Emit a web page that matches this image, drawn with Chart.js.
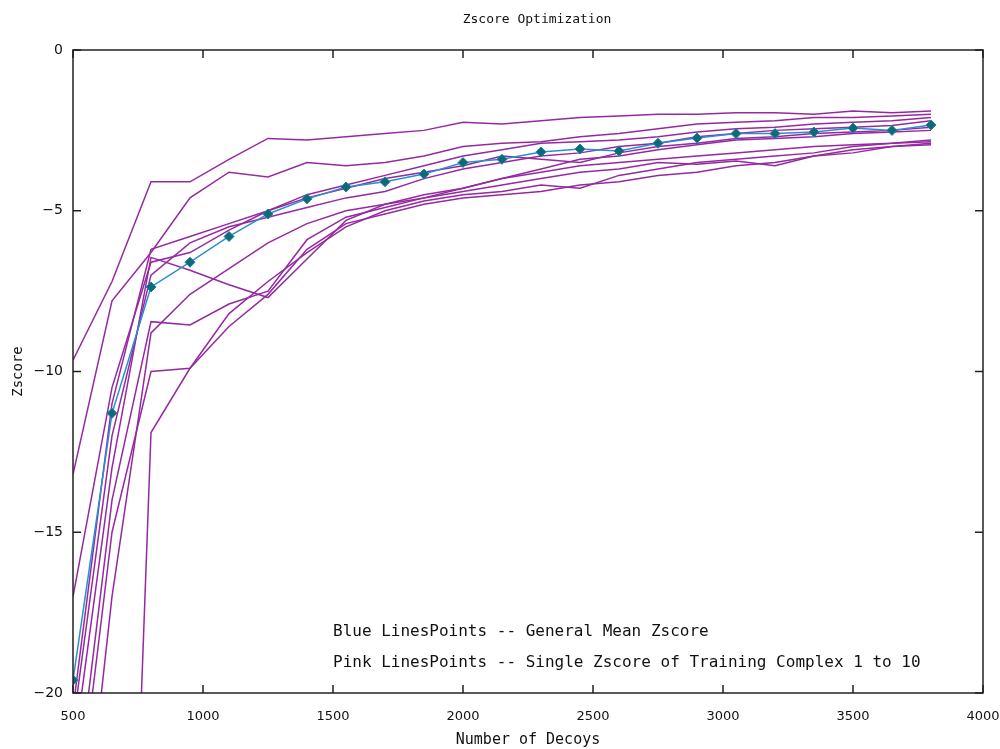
<!DOCTYPE html>
<html>
<head>
<meta charset="utf-8">
<script src="https://cdn.jsdelivr.net/npm/chart.js@4/dist/chart.umd.min.js"></script>
<style>
  html, body { margin: 0; padding: 0; background: #fff; }
  #wrap { width: 1000px; height: 749px; }
</style>
</head>
<body>
<div id="wrap"><canvas id="zChart" width="1000" height="749"></canvas></div>
<script>
  // Number of decoys (x positions of every series)
  const decoys = [500, 650, 800, 950, 1100, 1250, 1400, 1550, 1700, 1850, 2000, 2150,
                  2300, 2450, 2600, 2750, 2900, 3050, 3200, 3350, 3500, 3650, 3800];

  // General mean zscore (blue)
  const meanZ = [-19.6, -11.3, -7.37, -6.6, -5.8, -5.1, -4.63, -4.26, -4.1, -3.86, -3.5, -3.4,
                 -3.17, -3.08, -3.14, -2.9, -2.74, -2.6, -2.6, -2.55, -2.43, -2.5, -2.33];

  // Single zscore of training complexes 1..10 (pink)
  const complex1  = [-9.65, -7.2, -4.1, -4.1, -3.4, -2.75, -2.8, -2.7, -2.6, -2.5, -2.25, -2.3,
                     -2.2, -2.1, -2.05, -2.0, -2.0, -1.95, -1.95, -2.0, -1.9, -1.95, -1.9];
  const complex2  = [-13.2, -7.8, -6.3, -4.6, -3.8, -3.95, -3.5, -3.6, -3.5, -3.3, -3.0, -2.9,
                     -2.85, -2.7, -2.6, -2.45, -2.3, -2.25, -2.2, -2.1, -2.1, -2.05, -2.0];
  const complex3  = [-17.0, -10.5, -6.6, -6.3, -5.6, -5.0, -4.5, -4.2, -3.9, -3.6, -3.3, -3.1,
                     -2.9, -2.85, -2.8, -2.7, -2.55, -2.45, -2.4, -2.3, -2.25, -2.2, -2.1];
  const complex4  = [-22, -13, -6.45, -6.85, -7.3, -7.7, -6.5, -5.3, -4.8, -4.5, -4.3, -4.0,
                     -3.7, -3.4, -3.3, -3.1, -2.95, -2.8, -2.75, -2.7, -2.6, -2.55, -2.5];
  const complex5  = [-60, -45, -11.9, -9.9, -8.2, -7.2, -6.3, -5.5, -5.0, -4.7, -4.5, -4.4,
                     -4.2, -4.3, -3.9, -3.7, -3.5, -3.4, -3.3, -3.2, -3.0, -2.9, -2.85];
  const complex6  = [-25, -15, -10.0, -9.9, -8.6, -7.6, -6.2, -5.4, -5.1, -4.8, -4.6, -4.5,
                     -4.4, -4.2, -4.1, -3.9, -3.8, -3.6, -3.5, -3.3, -3.1, -3.0, -2.95];
  const complex7  = [-24, -14, -8.45, -8.55, -7.9, -7.5, -5.9, -5.2, -4.9, -4.6, -4.3, -4.0,
                     -3.8, -3.6, -3.5, -3.4, -3.3, -3.2, -3.1, -3.0, -2.95, -2.9, -2.8];
  const complex8  = [-21, -12, -7.0, -6.0, -5.5, -5.2, -4.9, -4.6, -4.4, -4.0, -3.7, -3.5,
                     -3.3, -3.2, -3.0, -2.9, -2.7, -2.6, -2.5, -2.45, -2.4, -2.35, -2.2];
  const complex9  = [-20.5, -11, -6.2, -5.8, -5.4, -5.0, -4.6, -4.3, -4.0, -3.8, -3.6, -3.3,
                     -3.4, -3.5, -3.2, -3.0, -2.9, -2.75, -2.7, -2.6, -2.55, -2.5, -2.4];
  const complex10 = [-28, -17, -8.8, -7.6, -6.8, -6.0, -5.4, -5.0, -4.8, -4.6, -4.4, -4.2,
                     -4.0, -3.8, -3.7, -3.5, -3.55, -3.45, -3.6, -3.3, -3.2, -3.0, -2.9];
  const complexes = [complex1, complex2, complex3, complex4, complex5,
                     complex6, complex7, complex8, complex9, complex10];

  const xTicks = [500, 1000, 1500, 2000, 2500, 3000, 3500, 4000];
  const yTicks = [0, -5, -10, -15, -20];

  const keyLines = [
    'Blue LinesPoints -- General Mean Zscore',
    'Pink LinesPoints -- Single Zscore of Training Complex 1 to 10'
  ];

  const mono = '"DejaVu Sans Mono", "Liberation Mono", monospace';
  const pts = arr => arr.map((v, i) => ({ x: decoys[i], y: v }));

  const datasets = [{
    label: 'General Mean Zscore',
    data: pts(meanZ),
    borderColor: '#2a8fd0',
    borderWidth: 1.5,
    pointStyle: 'rectRot',
    pointRadius: 5,
    pointBackgroundColor: '#0d6b74',
    pointBorderColor: '#1a7fb0',
    pointBorderWidth: 1,
    tension: 0
  }];
  complexes.forEach((c, i) => {
    datasets.push({
      label: 'Complex ' + (i + 1),
      data: pts(c),
      borderColor: '#952aa0',
      borderWidth: 1.5,
      pointRadius: 0,
      tension: 0
    });
  });

  // gnuplot-like frame: full border, inward ticks on all four sides, title and key text
  const framePlugin = {
    id: 'frame',
    afterDraw(chart) {
      const { ctx, chartArea: a, scales } = chart;
      ctx.save();
      ctx.strokeStyle = '#222';
      ctx.lineWidth = 1.5;
      ctx.strokeRect(a.left, a.top, a.right - a.left, a.bottom - a.top);
      ctx.beginPath();
      xTicks.forEach(t => {
        const px = scales.x.getPixelForValue(t);
        ctx.moveTo(px, a.bottom); ctx.lineTo(px, a.bottom - 8);
        ctx.moveTo(px, a.top); ctx.lineTo(px, a.top + 8);
      });
      yTicks.forEach(t => {
        const py = scales.y.getPixelForValue(t);
        ctx.moveTo(a.left, py); ctx.lineTo(a.left + 8, py);
        ctx.moveTo(a.right, py); ctx.lineTo(a.right - 8, py);
      });
      ctx.stroke();

      ctx.fillStyle = '#111';
      ctx.font = '13px ' + mono;
      ctx.textAlign = 'center';
      ctx.textBaseline = 'middle';
      ctx.fillText('Zscore Optimization', 537, 20);

      ctx.font = '16px ' + mono;
      ctx.textAlign = 'left';
      const kx = scales.x.getPixelForValue(1500);
      ctx.fillText(keyLines[0], kx, scales.y.getPixelForValue(-18.1));
      ctx.fillText(keyLines[1], kx, scales.y.getPixelForValue(-19.05));
      ctx.restore();
    }
  };

  new Chart(document.getElementById('zChart'), {
    type: 'line',
    data: { datasets },
    plugins: [framePlugin],
    options: {
      responsive: false,
      animation: false,
      layout: { padding: { top: 50, right: 17, left: 0, bottom: 0 } },
      plugins: { legend: { display: false }, tooltip: { enabled: false } },
      scales: {
        x: {
          type: 'linear',
          min: 500, max: 4000,
          afterBuildTicks: s => { s.ticks = xTicks.map(v => ({ value: v })); },
          afterFit: s => { s.height = 56; s.paddingRight = 0; s.paddingLeft = 0; },
          grid: { display: false, drawTicks: false },
          border: { display: false },
          ticks: { color: '#111', font: { family: '"DejaVu Sans", sans-serif', size: 13 }, padding: 16,
                   callback: v => String(v) },
          title: { display: true, text: 'Number of Decoys', color: '#111',
                   font: { family: mono, size: 15 }, padding: { top: 0, bottom: 0 } }
        },
        y: {
          type: 'linear',
          min: -20, max: 0,
          afterBuildTicks: s => { s.ticks = yTicks.map(v => ({ value: v })); },
          afterFit: s => { s.width = 73; },
          grid: { display: false, drawTicks: false },
          border: { display: false },
          ticks: { color: '#111', font: { family: '"DejaVu Sans", sans-serif', size: 14 }, padding: 10,
                   callback: v => String(v).replace('-', '\u2212') },
          title: { display: true, text: 'Zscore', color: '#111',
                   font: { family: mono, size: 14 }, padding: { top: 10, bottom: 0 } }
        }
      }
    }
  });
</script>
</body>
</html>
